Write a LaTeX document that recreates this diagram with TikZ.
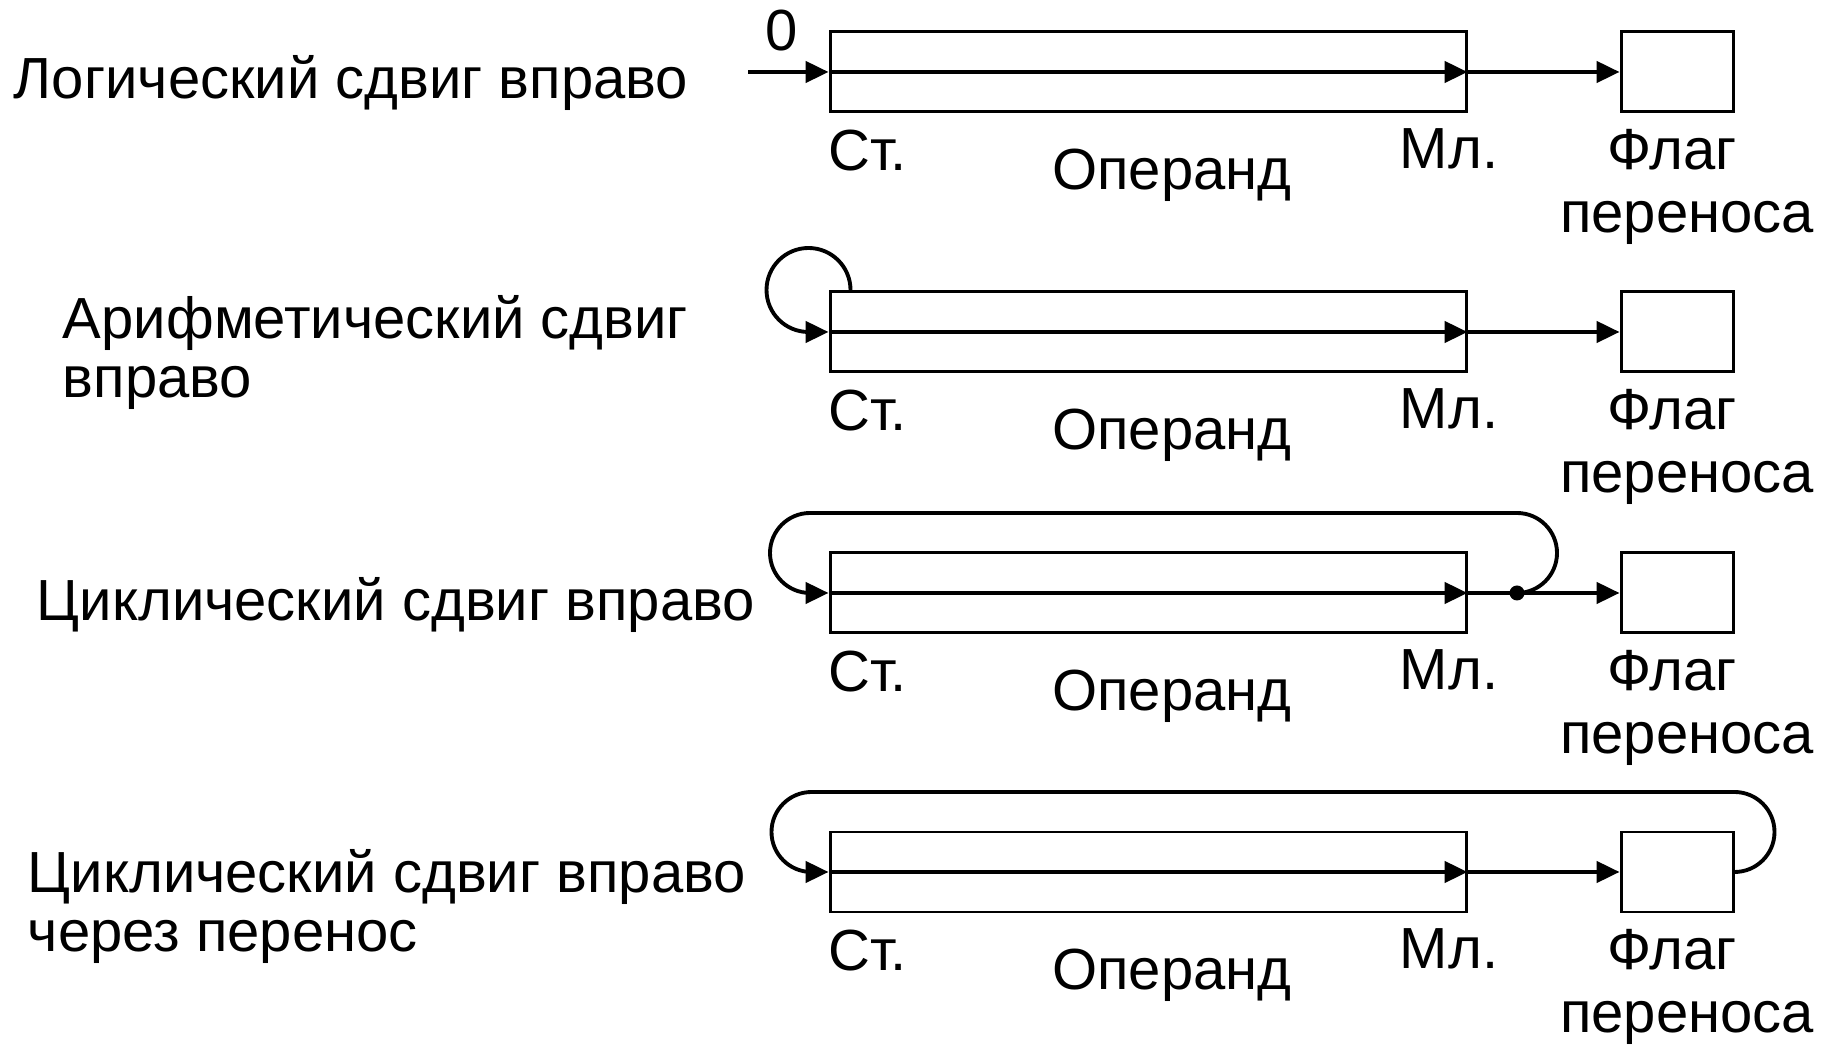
\documentclass[tikz,border=0pt]{standalone}
\usepackage{fontspec}
\setmainfont{Liberation Sans}
\usetikzlibrary{arrows.meta}
\tikzstyle{reg}=[draw,line width=0.85pt,minimum height=0.8cm,inner sep=0]
\tikzstyle{txt}=[font=\fontsize{16.5}{17}\selectfont,inner sep=0]
\tikzstyle{pt}=[fill,circle,inner sep=0,minimum size=0.15cm]

\begin{document}
\begin{tikzpicture}[line width=1.1pt,>={Triangle[length=6.5pt,width=6pt]}]
\useasboundingbox (0,0) rectangle (18.27,10.45);

                        % registers and flags
                        \node[reg,minimum width=6.36cm] (o1) at (11.48,9.73) {};
                        \node[reg,minimum width=6.36cm] (o2) at (11.48,7.13) {};
                        \node[reg,minimum width=6.36cm] (o3) at (11.48,4.52) {};
                        \node[reg,minimum width=6.36cm] (o4) at (11.48,1.73) {};
                        \node[reg,minimum width=1.12cm] (f1) at (16.77,9.73) {};
                        \node[reg,minimum width=1.12cm] (f2) at (16.77,7.13) {};
                        \node[reg,minimum width=1.12cm] (f3) at (16.77,4.52) {};
                        \node[reg,minimum width=1.12cm] (f4) at (16.77,1.73) {};

                        % left captions
                        \node[txt,anchor=base west] (l1) at (0.12,9.46) {Логический сдвиг вправо};
                        \node[txt,anchor=base west,align=left] (l2) at (0.61,6.47) {Арифметический сдвиг\\вправо};
                        \node[txt,anchor=base west] (l3) at (0.35,4.24) {Циклический сдвиг вправо};
                        \node[txt,anchor=base west,align=left] (l4) at (0.26,0.93) {Циклический сдвиг вправо\\через перенос};

                        % labels under the boxes
                        \node[txt,anchor=base west] (s1) at (8.27,8.74) {Ст.};
                        \node[txt,anchor=base] (t1) at (11.72,8.55) {Операнд};
                        \node[txt,anchor=base west] (m1) at (13.98,8.76) {Мл.};
                        \node[txt,anchor=base] (g1) at (16.72,8.75) {Флаг};
                        \node[txt,anchor=base] (p1) at (16.87,8.12) {переноса};

                        \node[txt,anchor=base west] (s2) at (8.27,6.14) {Ст.};
                        \node[txt,anchor=base] (t2) at (11.72,5.95) {Операнд};
                        \node[txt,anchor=base west] (m2) at (13.98,6.16) {Мл.};
                        \node[txt,anchor=base] (g2) at (16.72,6.15) {Флаг};
                        \node[txt,anchor=base] (p2) at (16.87,5.52) {переноса};

                        \node[txt,anchor=base west] (s3) at (8.27,3.53) {Ст.};
                        \node[txt,anchor=base] (t3) at (11.72,3.34) {Операнд};
                        \node[txt,anchor=base west] (m3) at (13.98,3.55) {Мл.};
                        \node[txt,anchor=base] (g3) at (16.72,3.54) {Флаг};
                        \node[txt,anchor=base] (p3) at (16.87,2.91) {переноса};

                        \node[txt,anchor=base west] (s4) at (8.27,0.74) {Ст.};
                        \node[txt,anchor=base] (t4) at (11.72,0.55) {Операнд};
                        \node[txt,anchor=base west] (m4) at (13.98,0.76) {Мл.};
                        \node[txt,anchor=base] (g4) at (16.72,0.75) {Флаг};
                        \node[txt,anchor=base] (p4) at (16.87,0.12) {переноса};

                        % shift paths
                        \node[txt,anchor=base] (z) at (7.82,9.94) {0};
                        \coordinate (in1) at (7.48,9.73);
                        \node[pt] (d3) at (15.17,4.52) {};

                        \draw[->] (in1) -- (o1.west);
                        \draw[->] (o1.west) -- (o1.east);
                        \draw[->] (o1.east) -- (f1.west);

                        \draw[<-] (o2.west) -- ++(-0.2,0) arc[start angle=270,end angle=0,radius=0.42];
                        \draw[->] (o2.west) -- (o2.east);
                        \draw[->] (o2.east) -- (f2.west);

                        \draw[->] (o3.west) -- (o3.east);
                        \draw[->] (o3.east) -- (f3.west);
                        \draw[->] (d3.center) arc[start angle=-90,end angle=90,radius=0.4]
                                -- ++(-7.07,0) arc[start angle=90,end angle=270,radius=0.4] -- (o3.west);

                        \draw[->] (o4.west) -- (o4.east);
                        \draw[->] (o4.east) -- (f4.west);
                        \draw[->] (f4.east) arc[start angle=-90,end angle=90,radius=0.4]
                                -- ++(-9.23,0) arc[start angle=90,end angle=270,radius=0.4] -- (o4.west);

\end{tikzpicture}
\end{document}
